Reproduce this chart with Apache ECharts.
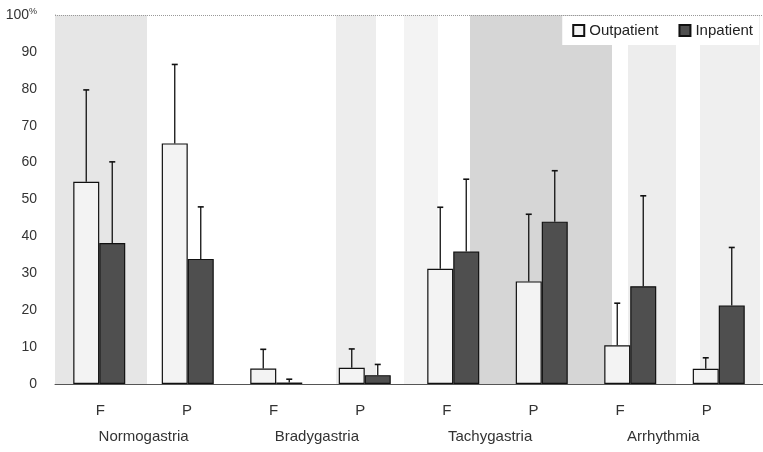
<!DOCTYPE html>
<html><head><meta charset="utf-8">
<script src="https://cdn.jsdelivr.net/npm/echarts@6/dist/echarts.min.js"></script>
<style>html,body{margin:0;padding:0;background:#fff}#c{width:763px;height:452px}</style>
</head><body><div id="c"></div>
<script>
const categories = ['F','P','F','P','F','P','F','P'];
const groups = ['Normogastria','Bradygastria','Tachygastria','Arrhythmia'];
const outpatient = [54.8, 65.2, 4.2, 4.4, 31.2, 27.8, 10.5, 4.1];
const outpatientUpper = [79.7, 86.6, 9.4, 9.5, 47.9, 46.0, 21.9, 7.1];
const inpatient = [38.2, 33.9, 0.4, 2.4, 35.9, 44.0, 26.5, 21.3];
const inpatientUpper = [60.2, 48.0, 1.3, 5.3, 55.5, 57.8, 51.0, 37.0];
const yTicks = [0,10,20,30,40,50,60,70,80,90,100];

const FONT = 'Liberation Sans, Arial, sans-serif';
const BAR_W = 26;
// background halftone bands (decoration), in pixel-like units of a hidden axis
const bands = [
  [52,147,'#e6e6e6'],[336,376,'#ededed'],[404,438,'#f3f3f3'],
  [470,612,'#d6d6d6'],[628,676,'#ededed'],[700,760,'#efefef']
];

function errRender(side){
  return function(params, api){
    const i = api.value(0), up = api.value(1), mean = api.value(2);
    const p1 = api.coord([i, up]);
    const p0 = api.coord([i, mean]);
    const x = p1[0] + side * BAR_W / 2;
    return {type:'group', children:[
      {type:'line', shape:{x1:x,y1:p0[1],x2:x,y2:p1[1]}, style:{stroke:'#111',lineWidth:1.3}},
      {type:'line', shape:{x1:x-3,y1:p1[1],x2:x+3,y2:p1[1]}, style:{stroke:'#111',lineWidth:1.6}}
    ]};
  };
}

const chart = echarts.init(document.getElementById('c'));
chart.setOption({
  animation:false,
  backgroundColor:'#fff',
  textStyle:{fontFamily:FONT},
  legend:{
    data:[{name:'Outpatient', icon:'rect'},{name:'Inpatient', icon:'rect'}], right:4, top:16,
    backgroundColor:'#fff', padding:[7,6,7,10],
    itemWidth:11, itemHeight:11, itemGap:20,
    textStyle:{fontSize:15, color:'#222', fontFamily:FONT}
  },
  grid:[
    {left:55, right:0, top:15, bottom:68},
    {left:57, width:693, top:15, bottom:68}
  ],
  xAxis:[
    {type:'category', gridIndex:0, data:categories, axisTick:{show:false}, axisLabel:{show:false},
     axisLine:{lineStyle:{color:'#555',width:1}}},
    {type:'value', gridIndex:0, min:55, max:763, show:false},
    {type:'category', gridIndex:1, data:categories, position:'bottom', axisLine:{show:false}, axisTick:{show:false},
     axisLabel:{margin:19, fontSize:15, color:'#333', fontFamily:FONT}},
    {type:'category', gridIndex:1, data:groups, position:'bottom', axisLine:{show:false}, axisTick:{show:false},
     axisLabel:{margin:45, fontSize:15, color:'#333', fontFamily:FONT}}
  ],
  yAxis:[
    {type:'value', gridIndex:0, min:0, max:100, interval:10,
     splitLine:{show:false}, axisTick:{show:false},
     axisLine:{show:true, lineStyle:{color:'#999', type:'dotted'}},
     axisLabel:{margin:18, fontSize:14, color:'#333', fontFamily:FONT,
       formatter:function(v){ return v===100 ? '{a|'+yTicks[10]+'}{b|%}' : String(v); },
       rich:{a:{fontSize:14,color:'#333',fontFamily:FONT}, b:{fontSize:9,color:'#333',verticalAlign:'top',padding:[0,0,6,0]}}}},
    {type:'value', gridIndex:1, min:0, max:100, show:false}
  ],
  series:[
    {name:'bg', type:'line', xAxisIndex:1, yAxisIndex:0, data:[], silent:true,
     markArea:{silent:true, data: bands.map(b=>[{xAxis:b[0], itemStyle:{color:b[2]}},{xAxis:b[1]}])},
     markLine:{silent:true, symbol:'none', label:{show:false},
       lineStyle:{color:'#999', type:'dotted', width:1}, data:[{yAxis:100}]}},
    {name:'Outpatient', type:'bar', xAxisIndex:0, yAxisIndex:0, data:outpatient, barWidth:BAR_W, barGap:'0%',
     itemStyle:{color:'#f3f3f3', borderColor:'#111', borderWidth:1.2}, z:3},
    {name:'Inpatient', type:'bar', xAxisIndex:0, yAxisIndex:0, data:inpatient, barWidth:BAR_W, barGap:'0%',
     itemStyle:{color:'#4f4f4f', borderColor:'#111', borderWidth:1.2}, z:3},
    {name:'errOut', type:'custom', xAxisIndex:0, yAxisIndex:0, renderItem:errRender(-1), z:4,
     data: outpatient.map((v,i)=>[i, outpatientUpper[i], v])},
    {name:'errIn', type:'custom', xAxisIndex:0, yAxisIndex:0, renderItem:errRender(1), z:4,
     data: inpatient.map((v,i)=>[i, inpatientUpper[i], v])}
  ]
});
</script></body></html>
